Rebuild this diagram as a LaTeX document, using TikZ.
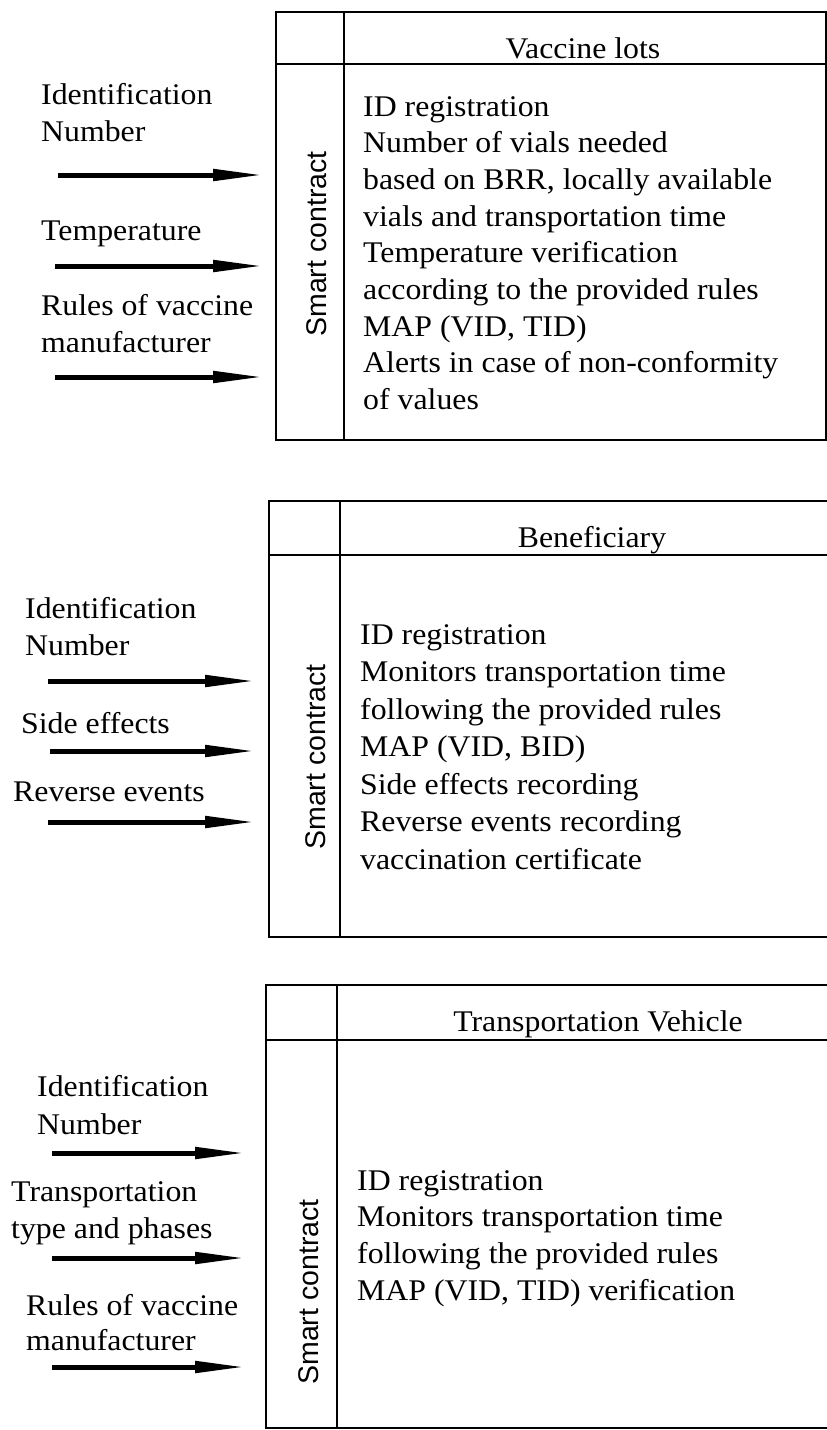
\documentclass[tikz,border=0pt]{standalone}
\usepackage{fontspec}
\setmainfont[FakeStretch=1.06]{Liberation Serif}
\setsansfont{Liberation Sans}
\usetikzlibrary{arrows.meta}

\tikzset{
  frame/.style={line width=1.8pt},
  feed/.style={line width=5pt,-{Triangle[length=51pt,width=11pt]}},
  lbl/.style={anchor=base west,inner sep=0pt,font=\fontsize{30}{36}\selectfont},
  ttl/.style={anchor=base,inner sep=0pt,font=\fontsize{30}{36}\selectfont},
  sc/.style={rotate=90,inner sep=0pt,font=\sffamily\fontsize{28.5}{34}\selectfont}
}

\begin{document}
\begin{tikzpicture}[x=1pt,y=-1pt]
  \useasboundingbox (0,0) rectangle (827,1430);

  % vaccine lots
  \draw[frame] (276,12) rectangle (826,440);
  \draw[frame] (276,64) -- (826,64);
  \draw[frame] (344,12) -- (344,440);
  \node[ttl] (vt) at (583,58.3) {Vaccine lots};
  \node[sc] (vs) at (317,244) {Smart contract};
  \node[lbl] (vl1) at (41,104) {Identification};
  \node[lbl] (vl2) at (41,141.7) {Number};
  \node[lbl] (vl3) at (41,240) {Temperature};
  \node[lbl] (vl4) at (41,315) {Rules of vaccine};
  \node[lbl] (vl5) at (41,352.7) {manufacturer};
  \foreach \t [count=\i] in {ID registration,Number of vials needed,
      {based on BRR, locally available},vials and transportation time,
      Temperature verification,according to the provided rules,
      {MAP (VID, TID)},Alerts in case of non-conformity,of values}
    \node[lbl] (vr\i) at (363,79.3+36.7*\i) {\t};
  \foreach \s/\y [count=\i] in {58/175,55/266,55/377}
  {
    \coordinate (va\i) at (\s,\y);
    \coordinate (vb\i) at (264,\y);
    \draw[feed] (va\i) -- (vb\i);
  }

  % beneficiary
  \draw[frame] (827,501) -- (269,501) -- (269,937) -- (827,937);
  \draw[frame] (269,555) -- (827,555);
  \draw[frame] (340,501) -- (340,937);
  \node[ttl] (bt) at (592,547.7) {Beneficiary};
  \node[sc] (bs) at (316,757) {Smart contract};
  \node[lbl] (bl1) at (25,618) {Identification};
  \node[lbl] (bl2) at (25,655.7) {Number};
  \node[lbl] (bl3) at (21,733) {Side effects};
  \node[lbl] (bl4) at (13,801.7) {Reverse events};
  \foreach \t [count=\i] in {ID registration,Monitors transportation time,
      following the provided rules,{MAP (VID, BID)},Side effects recording,
      Reverse events recording,vaccination certificate}
    \node[lbl] (br\i) at (360,606.5+37.5*\i) {\t};
  \foreach \s/\y [count=\i] in {48/681,50/751,48/822}
  {
    \coordinate (ba\i) at (\s,\y);
    \coordinate (bb\i) at (256,\y);
    \draw[feed] (ba\i) -- (bb\i);
  }

  % transportation vehicle
  \draw[frame] (827,985) -- (266,985) -- (266,1428) -- (827,1428);
  \draw[frame] (266,1040) -- (827,1040);
  \draw[frame] (337,985) -- (337,1428);
  \node[ttl] (tt) at (598,1031.7) {Transportation Vehicle};
  \node[sc] (ts) at (309,1292) {Smart contract};
  \node[lbl] (tl1) at (37,1096.7) {Identification};
  \node[lbl] (tl2) at (37,1134) {Number};
  \node[lbl] (tl3) at (11,1201) {Transportation};
  \node[lbl] (tl4) at (11,1238) {type and phases};
  \node[lbl] (tl5) at (26,1315) {Rules of vaccine};
  \node[lbl] (tl6) at (26,1350.7) {manufacturer};
  \foreach \t [count=\i] in {ID registration,Monitors transportation time,
      following the provided rules,{MAP (VID, TID) verification}}
    \node[lbl] (tr\i) at (357,1153.1+36.9*\i) {\t};
  \foreach \s/\y [count=\i] in {52/1153,52/1258,52/1367}
  {
    \coordinate (ta\i) at (\s,\y);
    \coordinate (tb\i) at (246,\y);
    \draw[feed] (ta\i) -- (tb\i);
  }
\end{tikzpicture}
\end{document}
